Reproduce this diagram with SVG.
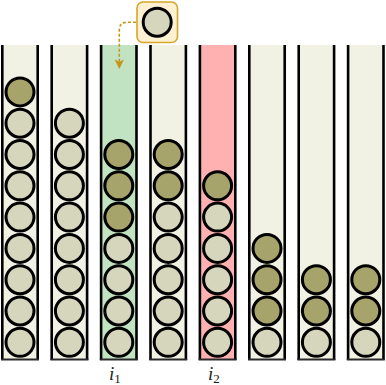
<svg xmlns="http://www.w3.org/2000/svg" width="386" height="385" viewBox="0 0 386 385">
<style>
.tube{fill:#f2f2e4}
.g{fill:#c2e3c2}
.p{fill:#ffb1b1}
.wall{stroke:#000;stroke-width:2.6;fill:none}
.bot{stroke:#2a2a2a;stroke-width:2;fill:none}
.b{fill:#d6d6bc;stroke:#000;stroke-width:3}
.d{fill:#a6a46b;stroke:#000;stroke-width:3}
.lbl{font-family:"Liberation Serif",serif;font-style:italic;font-size:19px;fill:#222}
.sub{font-family:"Liberation Serif",serif;font-style:normal;font-size:13px;fill:#222}
</style>
<defs>
<marker id="ah" viewBox="0 0 10 10" refX="9" refY="5" markerWidth="6" markerHeight="6" orient="auto" markerUnits="strokeWidth">
<path d="M0,0 L10,5 L0,10 L2.5,5 Z" fill="#c8951c"/>
</marker>
</defs>
<rect width="386" height="385" fill="#fff"/>

<g id="col1">
<rect class="tube" x="2" y="45" width="36" height="315"/>
<path class="wall" d="M2.3,45 V360 M37.7,45 V360"/><path class="bot" d="M1,359.5 H39"/>
<circle class="b" cx="20" cy="342.3" r="14"/><circle class="b" cx="20" cy="311" r="14"/><circle class="b" cx="20" cy="279.7" r="14"/><circle class="b" cx="20" cy="248.4" r="14"/><circle class="b" cx="20" cy="217.1" r="14"/><circle class="b" cx="20" cy="185.8" r="14"/><circle class="b" cx="20" cy="154.5" r="14"/><circle class="b" cx="20" cy="123.2" r="14"/><circle class="d" cx="20" cy="91.9" r="14"/>
</g>

<g id="col2">
<rect class="tube" x="51.4" y="45" width="36" height="315"/>
<path class="wall" d="M51.7,45 V360 M87.1,45 V360"/><path class="bot" d="M50.4,359.5 H88.4"/>
<circle class="b" cx="69.4" cy="342.3" r="14"/><circle class="b" cx="69.4" cy="311" r="14"/><circle class="b" cx="69.4" cy="279.7" r="14"/><circle class="b" cx="69.4" cy="248.4" r="14"/><circle class="b" cx="69.4" cy="217.1" r="14"/><circle class="b" cx="69.4" cy="185.8" r="14"/><circle class="b" cx="69.4" cy="154.5" r="14"/><circle class="b" cx="69.4" cy="123.2" r="14"/>
</g>

<g id="col3">
<rect class="g" x="100.8" y="45" width="36" height="315"/>
<path class="wall" d="M101.1,45 V360 M136.5,45 V360"/><path class="bot" d="M99.8,359.5 H137.8"/>
<circle class="b" cx="118.8" cy="342.3" r="14"/><circle class="b" cx="118.8" cy="311" r="14"/><circle class="b" cx="118.8" cy="279.7" r="14"/><circle class="b" cx="118.8" cy="248.4" r="14"/><circle class="d" cx="118.8" cy="217.1" r="14"/><circle class="d" cx="118.8" cy="185.8" r="14"/><circle class="d" cx="118.8" cy="154.5" r="14"/>
</g>

<g id="col4">
<rect class="tube" x="150.2" y="45" width="36" height="315"/>
<path class="wall" d="M150.5,45 V360 M185.9,45 V360"/><path class="bot" d="M149.2,359.5 H187.2"/>
<circle class="b" cx="168.2" cy="342.3" r="14"/><circle class="b" cx="168.2" cy="311" r="14"/><circle class="b" cx="168.2" cy="279.7" r="14"/><circle class="b" cx="168.2" cy="248.4" r="14"/><circle class="b" cx="168.2" cy="217.1" r="14"/><circle class="d" cx="168.2" cy="185.8" r="14"/><circle class="d" cx="168.2" cy="154.5" r="14"/>
</g>

<g id="col5">
<rect class="p" x="199.6" y="45" width="36" height="315"/>
<path class="wall" d="M199.9,45 V360 M235.3,45 V360"/><path class="bot" d="M198.6,359.5 H236.6"/>
<circle class="b" cx="217.6" cy="342.3" r="14"/><circle class="b" cx="217.6" cy="311" r="14"/><circle class="b" cx="217.6" cy="279.7" r="14"/><circle class="b" cx="217.6" cy="248.4" r="14"/><circle class="b" cx="217.6" cy="217.1" r="14"/><circle class="d" cx="217.6" cy="185.8" r="14"/>
</g>

<g id="col6">
<rect class="tube" x="249" y="45" width="36" height="315"/>
<path class="wall" d="M249.3,45 V360 M284.7,45 V360"/><path class="bot" d="M248,359.5 H286"/>
<circle class="b" cx="267" cy="342.3" r="14"/><circle class="d" cx="267" cy="311" r="14"/><circle class="d" cx="267" cy="279.7" r="14"/><circle class="d" cx="267" cy="248.4" r="14"/>
</g>

<g id="col7">
<rect class="tube" x="298.4" y="45" width="36" height="315"/>
<path class="wall" d="M298.7,45 V360 M334.1,45 V360"/><path class="bot" d="M297.4,359.5 H335.4"/>
<circle class="b" cx="316.4" cy="342.3" r="14"/><circle class="d" cx="316.4" cy="311" r="14"/><circle class="d" cx="316.4" cy="279.7" r="14"/>
</g>

<g id="col8">
<rect class="tube" x="347.8" y="45" width="36" height="315"/>
<path class="wall" d="M348.1,45 V360 M383.5,45 V360"/><path class="bot" d="M346.8,359.5 H384.8"/>
<circle class="b" cx="365.8" cy="342.3" r="14"/><circle class="d" cx="365.8" cy="311" r="14"/><circle class="d" cx="365.8" cy="279.7" r="14"/>
</g>

<g id="newball">
<rect x="137" y="2" width="40.5" height="40.5" rx="6" fill="#fdf1d2" stroke="#d6a62a" stroke-width="1.6"/>
<circle class="b" cx="157.2" cy="22.2" r="14"/>
</g>

<g id="connectors">
<path d="M136,22.3 H127 Q119.3,22.3 119.3,30 V68" fill="none" stroke="#c8951c" stroke-width="1.6" stroke-dasharray="3,2" marker-end="url(#ah)"/>
</g>

<g id="labels">
<text class="lbl" x="109" y="380">i<tspan class="sub" dy="2.5">1</tspan></text>
<text class="lbl" x="208" y="380">i<tspan class="sub" dy="2.5">2</tspan></text>
</g>
</svg>
